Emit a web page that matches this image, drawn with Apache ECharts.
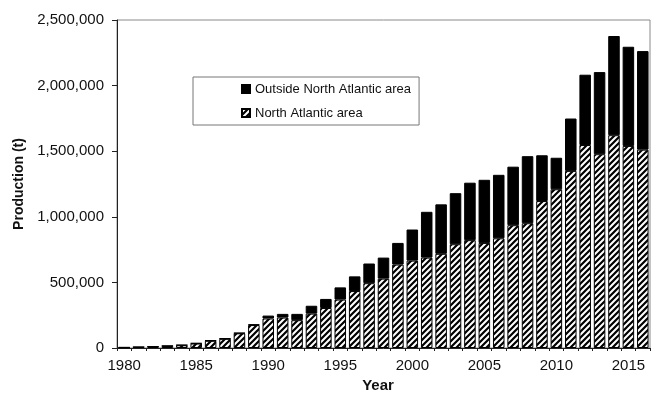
<!DOCTYPE html>
<html>
<head>
<meta charset="utf-8">
<script src="https://cdn.jsdelivr.net/npm/echarts@6/dist/echarts.min.js"></script>
<style>html,body{margin:0;padding:0;background:#fff;}#c{width:657px;height:398px;}</style>
</head>
<body>
<div id="c"></div>
<script>
const years = ['1980','1981','1982','1983','1984','1985','1986','1987','1988','1989','1990','1991','1992','1993','1994','1995','1996','1997','1998','1999','2000','2001','2002','2003','2004','2005','2006','2007','2008','2009','2010','2011','2012','2013','2014','2015','2016'];
const northAtlantic = [4000,7000,10000,15000,21000,34000,55000,70000,112000,175000,225000,232000,212000,262000,305000,369000,434000,494000,529000,636000,666000,689000,718000,791000,822000,801000,836000,936000,951000,1120000,1210000,1350000,1547000,1477000,1622000,1540000,1512000];
const outsideNA = [1000,1000,2000,2000,2000,3000,3000,3000,3000,5000,22000,28000,48000,60000,69000,93000,112000,150000,160000,165000,237000,349000,377000,389000,438000,481000,484000,446000,511000,349000,240000,399000,536000,626000,756000,756000,751000];
const seriesNames = ['Outside North Atlantic area','North Atlantic area'];
const yTicks = {min:0, max:2500000, interval:500000};

function makeHatch(){
  const s = 6;
  const c = document.createElement('canvas');
  c.width = s; c.height = s;
  const g = c.getContext('2d');
  g.fillStyle = '#fff'; g.fillRect(0,0,s,s);
  g.strokeStyle = '#000'; g.lineWidth = 2.2;
  g.beginPath();
  g.moveTo(-1, s+1); g.lineTo(s+1, -1);
  g.moveTo(-s/2-1, s/2+1); g.lineTo(s/2+1, -s/2-1);
  g.moveTo(s/2-1, s*1.5+1); g.lineTo(s*1.5+1, s/2-1);
  g.stroke();
  return c;
}
const hatch = {image: makeHatch(), repeat: 'repeat'};
const FONT = "'Liberation Sans', Arial, sans-serif";

const chart = echarts.init(document.getElementById('c'), null, {renderer:'canvas'});
chart.setOption({
  animation: false,
  backgroundColor: '#fff',
  textStyle: {fontFamily: FONT},
  grid: {left:117, right:7, top:20, bottom:44, show:true, borderColor:'#8a8a8a', borderWidth:1},
  legend: {
    orient: 'vertical', left: 193, top: 77,
    padding: [4, 8, 4, 48],
    borderColor: '#777', borderWidth: 1,
    itemWidth: 8, itemHeight: 8, itemGap: 8,
    icon: 'rect',
    textStyle: {fontFamily: FONT, fontSize: 13, color: '#111', lineHeight: 16},
    data: [seriesNames[0], seriesNames[1]]
  },
  xAxis: {
    type: 'category', data: years,
    name: 'Year', nameLocation: 'middle', nameGap: 30,
    nameTextStyle: {fontFamily: FONT, fontSize: 15, fontWeight: 'bold', color: '#111', padding: [0, 11, 0, 0]},
    axisLine: {lineStyle: {color: '#222', width: 1}},
    axisTick: {show: true, interval: 0, length: 3, lineStyle: {color: '#222'}},
    axisLabel: {interval: 4, fontSize: 15, color: '#111', margin: 10, fontFamily: FONT}
  },
  yAxis: {
    type: 'value', min: yTicks.min, max: yTicks.max, interval: yTicks.interval,
    name: 'Production (t)', nameLocation: 'middle', nameGap: 89, nameRotate: 90,
    nameTextStyle: {fontFamily: FONT, fontSize: 14, fontWeight: 'bold', color: '#111'},
    axisLine: {show: true, lineStyle: {color: '#222', width: 1}},
    axisTick: {show: true, length: 5, lineStyle: {color: '#222'}},
    splitLine: {show: false},
    axisLabel: {fontSize: 15, color: '#111', margin: 13, fontFamily: FONT,
      formatter: v => v.toLocaleString('en-US')}
  },
  series: [
    {name: seriesNames[1], type: 'bar', stack: 'p', data: northAtlantic,
     barCategoryGap: '20%',
     itemStyle: {color: hatch, borderColor: '#000', borderWidth: 1}},
    {name: seriesNames[0], type: 'bar', stack: 'p', data: outsideNA,
     barCategoryGap: '20%',
     itemStyle: {color: '#000', borderColor: '#000', borderWidth: 1}}
  ]
});
</script>
</body>
</html>
